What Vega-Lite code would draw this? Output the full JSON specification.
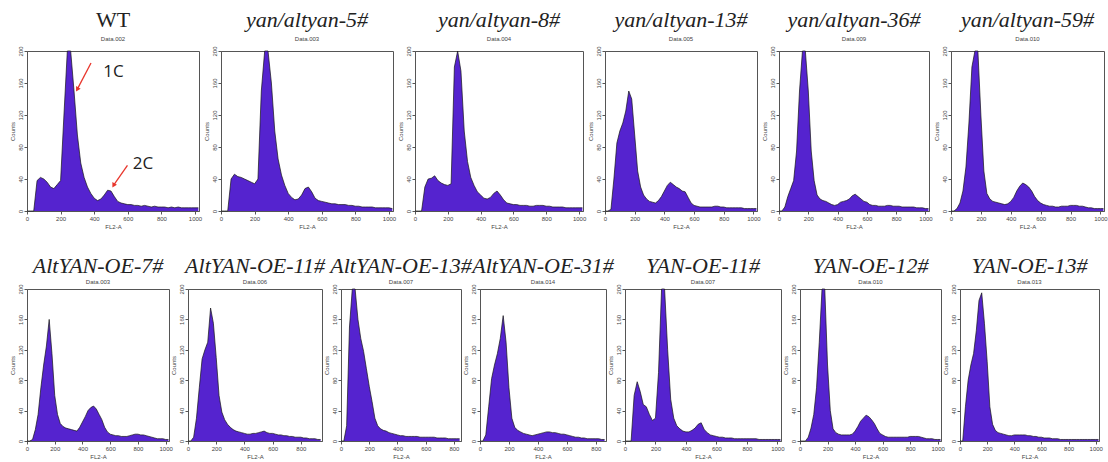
{
"$schema": "https://vega.github.io/schema/vega-lite/v6.json",
"background": "white",
"padding": {"left": 8, "top": 8, "right": 0, "bottom": 2},
"config": {
  "view": {"stroke": "#555", "strokeWidth": 1},
  "title": {"font": "Liberation Serif", "fontStyle": "italic", "fontWeight": "normal", "fontSize": 22, "color": "#222", "anchor": "middle", "offset": 3,
    "subtitleFont": "Liberation Sans", "subtitleFontStyle": "normal", "subtitleFontSize": 6, "subtitleColor": "#444", "subtitlePadding": 4},
  "axis": {"grid": false, "labelFont": "Liberation Sans", "labelFontSize": 6, "labelColor": "#444", "titleFont": "Liberation Sans", "titleFontSize": 6, "titleFontWeight": "normal", "titleColor": "#444", "tickSize": 3, "tickColor": "#555", "domainColor": "#555", "labelPadding": 1, "titlePadding": 2, "format": "d"},
  "axisY": {"labelAngle": -90, "labelAlign": "center", "labelBaseline": "bottom"},
  "axisX": {"tickCount": 5, "labelFlush": false},
  "area": {"color": "#5523cf", "clip": true, "line": {"color": "#151515", "strokeWidth": 0.7}}
},
"datasets": {
"WT": [{"x":0,"c":0},{"x":20,"c":0},{"x":40,"c":0},{"x":60,"c":38},{"x":80,"c":42},{"x":100,"c":40},{"x":120,"c":36},{"x":140,"c":30},{"x":160,"c":28},{"x":180,"c":33},{"x":200,"c":38},{"x":220,"c":120},{"x":240,"c":200},{"x":260,"c":200},{"x":280,"c":150},{"x":300,"c":95},{"x":320,"c":60},{"x":340,"c":42},{"x":360,"c":30},{"x":380,"c":22},{"x":400,"c":16},{"x":420,"c":13},{"x":440,"c":15},{"x":460,"c":20},{"x":480,"c":26},{"x":500,"c":25},{"x":520,"c":18},{"x":540,"c":12},{"x":560,"c":10},{"x":580,"c":9},{"x":600,"c":8},{"x":620,"c":8},{"x":640,"c":7},{"x":660,"c":7},{"x":680,"c":6},{"x":700,"c":7},{"x":720,"c":6},{"x":740,"c":5},{"x":760,"c":6},{"x":780,"c":5},{"x":800,"c":5},{"x":820,"c":5},{"x":840,"c":4},{"x":860,"c":5},{"x":880,"c":4},{"x":900,"c":5},{"x":920,"c":4},{"x":940,"c":4},{"x":960,"c":4},{"x":980,"c":4},{"x":1000,"c":4},{"x":1020,"c":4}],
"WTnotes": [{"label":"1C","from_x":381,"from_c":185,"to_x":299,"to_c":152,"text_x":515,"text_c":174},{"label":"2C","from_x":598,"from_c":57,"to_x":515,"to_c":32,"text_x":690,"text_c":59}],
"Y5": [{"x":0,"c":0},{"x":20,"c":0},{"x":40,"c":0},{"x":60,"c":40},{"x":80,"c":46},{"x":100,"c":43},{"x":120,"c":42},{"x":140,"c":40},{"x":160,"c":38},{"x":180,"c":36},{"x":200,"c":34},{"x":220,"c":40},{"x":240,"c":150},{"x":260,"c":200},{"x":280,"c":200},{"x":300,"c":160},{"x":320,"c":100},{"x":340,"c":65},{"x":360,"c":45},{"x":380,"c":32},{"x":400,"c":22},{"x":420,"c":17},{"x":440,"c":14},{"x":460,"c":15},{"x":480,"c":20},{"x":500,"c":28},{"x":520,"c":30},{"x":540,"c":24},{"x":560,"c":16},{"x":580,"c":13},{"x":600,"c":12},{"x":620,"c":11},{"x":640,"c":10},{"x":660,"c":9},{"x":680,"c":9},{"x":700,"c":8},{"x":720,"c":8},{"x":740,"c":8},{"x":760,"c":7},{"x":780,"c":7},{"x":800,"c":6},{"x":820,"c":6},{"x":840,"c":5},{"x":860,"c":5},{"x":880,"c":5},{"x":900,"c":5},{"x":920,"c":4},{"x":940,"c":4},{"x":960,"c":4},{"x":980,"c":4},{"x":1000,"c":4},{"x":1020,"c":3}],
"Y8": [{"x":0,"c":0},{"x":20,"c":0},{"x":40,"c":0},{"x":60,"c":30},{"x":80,"c":40},{"x":100,"c":41},{"x":120,"c":44},{"x":140,"c":38},{"x":160,"c":35},{"x":180,"c":33},{"x":200,"c":32},{"x":220,"c":34},{"x":240,"c":180},{"x":260,"c":200},{"x":280,"c":175},{"x":300,"c":100},{"x":320,"c":62},{"x":340,"c":42},{"x":360,"c":32},{"x":380,"c":24},{"x":400,"c":20},{"x":420,"c":16},{"x":440,"c":15},{"x":460,"c":17},{"x":480,"c":22},{"x":500,"c":25},{"x":520,"c":20},{"x":540,"c":14},{"x":560,"c":10},{"x":580,"c":9},{"x":600,"c":8},{"x":620,"c":8},{"x":640,"c":7},{"x":660,"c":7},{"x":680,"c":7},{"x":700,"c":6},{"x":720,"c":6},{"x":740,"c":7},{"x":760,"c":7},{"x":780,"c":7},{"x":800,"c":6},{"x":820,"c":6},{"x":840,"c":5},{"x":860,"c":5},{"x":880,"c":5},{"x":900,"c":5},{"x":920,"c":4},{"x":940,"c":4},{"x":960,"c":4},{"x":980,"c":4},{"x":1000,"c":4},{"x":1020,"c":4}],
"Y13": [{"x":0,"c":0},{"x":20,"c":0},{"x":40,"c":2},{"x":60,"c":40},{"x":80,"c":85},{"x":100,"c":100},{"x":120,"c":110},{"x":140,"c":125},{"x":160,"c":150},{"x":180,"c":140},{"x":200,"c":95},{"x":220,"c":50},{"x":240,"c":30},{"x":260,"c":20},{"x":280,"c":15},{"x":300,"c":12},{"x":320,"c":11},{"x":340,"c":10},{"x":360,"c":13},{"x":380,"c":18},{"x":400,"c":25},{"x":420,"c":32},{"x":440,"c":36},{"x":460,"c":33},{"x":480,"c":30},{"x":500,"c":28},{"x":520,"c":25},{"x":540,"c":24},{"x":560,"c":17},{"x":580,"c":10},{"x":600,"c":7},{"x":620,"c":6},{"x":640,"c":5},{"x":660,"c":5},{"x":680,"c":5},{"x":700,"c":5},{"x":720,"c":5},{"x":740,"c":6},{"x":760,"c":6},{"x":780,"c":5},{"x":800,"c":5},{"x":820,"c":4},{"x":840,"c":4},{"x":860,"c":4},{"x":880,"c":4},{"x":900,"c":4},{"x":920,"c":4},{"x":940,"c":3},{"x":960,"c":3},{"x":980,"c":3},{"x":1000,"c":3},{"x":1020,"c":3}],
"Y36": [{"x":0,"c":0},{"x":20,"c":0},{"x":40,"c":5},{"x":60,"c":18},{"x":80,"c":28},{"x":100,"c":38},{"x":120,"c":75},{"x":140,"c":150},{"x":160,"c":200},{"x":180,"c":200},{"x":200,"c":150},{"x":220,"c":75},{"x":240,"c":38},{"x":260,"c":20},{"x":280,"c":15},{"x":300,"c":13},{"x":320,"c":12},{"x":340,"c":10},{"x":360,"c":8},{"x":380,"c":7},{"x":400,"c":8},{"x":420,"c":11},{"x":440,"c":12},{"x":460,"c":13},{"x":480,"c":15},{"x":500,"c":19},{"x":520,"c":21},{"x":540,"c":18},{"x":560,"c":15},{"x":580,"c":12},{"x":600,"c":11},{"x":620,"c":8},{"x":640,"c":7},{"x":660,"c":7},{"x":680,"c":6},{"x":700,"c":6},{"x":720,"c":6},{"x":740,"c":7},{"x":760,"c":7},{"x":780,"c":6},{"x":800,"c":6},{"x":820,"c":6},{"x":840,"c":5},{"x":860,"c":5},{"x":880,"c":5},{"x":900,"c":5},{"x":920,"c":5},{"x":940,"c":4},{"x":960,"c":4},{"x":980,"c":4},{"x":1000,"c":3},{"x":1020,"c":3}],
"Y59": [{"x":0,"c":0},{"x":20,"c":0},{"x":40,"c":3},{"x":60,"c":10},{"x":80,"c":25},{"x":100,"c":55},{"x":120,"c":110},{"x":140,"c":180},{"x":160,"c":200},{"x":180,"c":200},{"x":200,"c":120},{"x":220,"c":50},{"x":240,"c":22},{"x":260,"c":15},{"x":280,"c":12},{"x":300,"c":11},{"x":320,"c":10},{"x":340,"c":9},{"x":360,"c":8},{"x":380,"c":9},{"x":400,"c":12},{"x":420,"c":17},{"x":440,"c":25},{"x":460,"c":31},{"x":480,"c":35},{"x":500,"c":33},{"x":520,"c":30},{"x":540,"c":25},{"x":560,"c":18},{"x":580,"c":13},{"x":600,"c":10},{"x":620,"c":8},{"x":640,"c":7},{"x":660,"c":6},{"x":680,"c":6},{"x":700,"c":5},{"x":720,"c":5},{"x":740,"c":6},{"x":760,"c":6},{"x":780,"c":6},{"x":800,"c":7},{"x":820,"c":7},{"x":840,"c":7},{"x":860,"c":6},{"x":880,"c":6},{"x":900,"c":5},{"x":920,"c":4},{"x":940,"c":4},{"x":960,"c":3},{"x":980,"c":3},{"x":1000,"c":3},{"x":1020,"c":3}],
"A7": [{"x":0,"c":0},{"x":20,"c":0},{"x":40,"c":2},{"x":60,"c":15},{"x":80,"c":35},{"x":100,"c":70},{"x":120,"c":100},{"x":140,"c":125},{"x":160,"c":160},{"x":180,"c":115},{"x":200,"c":60},{"x":220,"c":35},{"x":240,"c":23},{"x":260,"c":19},{"x":280,"c":17},{"x":300,"c":16},{"x":320,"c":15},{"x":340,"c":14},{"x":360,"c":13},{"x":380,"c":18},{"x":400,"c":25},{"x":420,"c":32},{"x":440,"c":40},{"x":460,"c":44},{"x":480,"c":46},{"x":500,"c":42},{"x":520,"c":35},{"x":540,"c":28},{"x":560,"c":18},{"x":580,"c":12},{"x":600,"c":9},{"x":620,"c":8},{"x":640,"c":7},{"x":660,"c":7},{"x":680,"c":6},{"x":700,"c":6},{"x":720,"c":6},{"x":740,"c":7},{"x":760,"c":8},{"x":780,"c":9},{"x":800,"c":9},{"x":820,"c":8},{"x":840,"c":8},{"x":860,"c":7},{"x":880,"c":6},{"x":900,"c":5},{"x":920,"c":4},{"x":940,"c":3},{"x":960,"c":3},{"x":980,"c":3},{"x":1000,"c":2},{"x":1020,"c":2}],
"A11": [{"x":0,"c":0},{"x":20,"c":0},{"x":40,"c":5},{"x":60,"c":30},{"x":80,"c":70},{"x":100,"c":108},{"x":120,"c":120},{"x":140,"c":130},{"x":160,"c":175},{"x":180,"c":155},{"x":200,"c":110},{"x":220,"c":60},{"x":240,"c":38},{"x":260,"c":28},{"x":280,"c":22},{"x":300,"c":18},{"x":320,"c":15},{"x":340,"c":13},{"x":360,"c":12},{"x":380,"c":11},{"x":400,"c":10},{"x":420,"c":9},{"x":440,"c":9},{"x":460,"c":10},{"x":480,"c":10},{"x":500,"c":11},{"x":520,"c":12},{"x":540,"c":13},{"x":560,"c":11},{"x":580,"c":10},{"x":600,"c":10},{"x":620,"c":9},{"x":640,"c":8},{"x":660,"c":8},{"x":680,"c":7},{"x":700,"c":7},{"x":720,"c":6},{"x":740,"c":6},{"x":760,"c":5},{"x":780,"c":5},{"x":800,"c":5},{"x":820,"c":4},{"x":840,"c":4},{"x":860,"c":3},{"x":880,"c":3},{"x":900,"c":3},{"x":920,"c":2},{"x":940,"c":2}],
"A13": [{"x":0,"c":0},{"x":20,"c":0},{"x":40,"c":20},{"x":60,"c":150},{"x":80,"c":200},{"x":100,"c":200},{"x":120,"c":160},{"x":140,"c":135},{"x":160,"c":118},{"x":180,"c":95},{"x":200,"c":72},{"x":220,"c":52},{"x":240,"c":30},{"x":260,"c":20},{"x":280,"c":16},{"x":300,"c":14},{"x":320,"c":13},{"x":340,"c":11},{"x":360,"c":10},{"x":380,"c":9},{"x":400,"c":8},{"x":420,"c":7},{"x":440,"c":7},{"x":460,"c":6},{"x":480,"c":6},{"x":500,"c":6},{"x":520,"c":6},{"x":540,"c":6},{"x":560,"c":5},{"x":580,"c":5},{"x":600,"c":5},{"x":620,"c":5},{"x":640,"c":5},{"x":660,"c":5},{"x":680,"c":4},{"x":700,"c":4},{"x":720,"c":4},{"x":740,"c":4},{"x":760,"c":3},{"x":780,"c":3},{"x":800,"c":3},{"x":820,"c":3},{"x":840,"c":3}],
"A31": [{"x":0,"c":0},{"x":20,"c":0},{"x":40,"c":8},{"x":60,"c":45},{"x":80,"c":82},{"x":100,"c":100},{"x":120,"c":115},{"x":140,"c":135},{"x":160,"c":165},{"x":180,"c":130},{"x":200,"c":70},{"x":220,"c":30},{"x":240,"c":18},{"x":260,"c":14},{"x":280,"c":12},{"x":300,"c":10},{"x":320,"c":9},{"x":340,"c":8},{"x":360,"c":7},{"x":380,"c":8},{"x":400,"c":9},{"x":420,"c":10},{"x":440,"c":11},{"x":460,"c":12},{"x":480,"c":12},{"x":500,"c":11},{"x":520,"c":11},{"x":540,"c":10},{"x":560,"c":9},{"x":580,"c":9},{"x":600,"c":8},{"x":620,"c":7},{"x":640,"c":6},{"x":660,"c":5},{"x":680,"c":5},{"x":700,"c":4},{"x":720,"c":4},{"x":740,"c":3},{"x":760,"c":3},{"x":780,"c":3},{"x":800,"c":3},{"x":820,"c":3},{"x":840,"c":2},{"x":860,"c":2}],
"O11": [{"x":0,"c":0},{"x":20,"c":0},{"x":40,"c":0},{"x":60,"c":60},{"x":80,"c":78},{"x":100,"c":65},{"x":120,"c":48},{"x":140,"c":45},{"x":160,"c":35},{"x":180,"c":27},{"x":200,"c":30},{"x":220,"c":90},{"x":240,"c":200},{"x":260,"c":200},{"x":280,"c":120},{"x":300,"c":55},{"x":320,"c":30},{"x":340,"c":20},{"x":360,"c":16},{"x":380,"c":13},{"x":400,"c":12},{"x":420,"c":12},{"x":440,"c":14},{"x":460,"c":17},{"x":480,"c":22},{"x":500,"c":24},{"x":520,"c":15},{"x":540,"c":11},{"x":560,"c":8},{"x":580,"c":7},{"x":600,"c":6},{"x":620,"c":5},{"x":640,"c":5},{"x":660,"c":4},{"x":680,"c":4},{"x":700,"c":4},{"x":720,"c":3},{"x":740,"c":3},{"x":760,"c":3},{"x":780,"c":3},{"x":800,"c":3},{"x":820,"c":3},{"x":840,"c":3},{"x":860,"c":3},{"x":880,"c":2},{"x":900,"c":2},{"x":920,"c":2},{"x":940,"c":2},{"x":960,"c":2},{"x":980,"c":2},{"x":1000,"c":2},{"x":1020,"c":2}],
"O12": [{"x":0,"c":0},{"x":20,"c":0},{"x":40,"c":0},{"x":60,"c":5},{"x":80,"c":17},{"x":100,"c":35},{"x":120,"c":70},{"x":140,"c":130},{"x":160,"c":200},{"x":180,"c":200},{"x":200,"c":100},{"x":220,"c":40},{"x":240,"c":16},{"x":260,"c":11},{"x":280,"c":9},{"x":300,"c":8},{"x":320,"c":8},{"x":340,"c":8},{"x":360,"c":8},{"x":380,"c":9},{"x":400,"c":13},{"x":420,"c":19},{"x":440,"c":26},{"x":460,"c":30},{"x":480,"c":34},{"x":500,"c":32},{"x":520,"c":28},{"x":540,"c":23},{"x":560,"c":16},{"x":580,"c":10},{"x":600,"c":8},{"x":620,"c":6},{"x":640,"c":5},{"x":660,"c":5},{"x":680,"c":5},{"x":700,"c":5},{"x":720,"c":5},{"x":740,"c":5},{"x":760,"c":5},{"x":780,"c":5},{"x":800,"c":6},{"x":820,"c":6},{"x":840,"c":6},{"x":860,"c":6},{"x":880,"c":5},{"x":900,"c":4},{"x":920,"c":3},{"x":940,"c":3},{"x":960,"c":3},{"x":980,"c":2},{"x":1000,"c":2},{"x":1020,"c":2}],
"O13": [{"x":0,"c":0},{"x":20,"c":0},{"x":40,"c":45},{"x":60,"c":80},{"x":80,"c":100},{"x":100,"c":115},{"x":120,"c":145},{"x":140,"c":185},{"x":160,"c":195},{"x":180,"c":155},{"x":200,"c":105},{"x":220,"c":45},{"x":240,"c":22},{"x":260,"c":14},{"x":280,"c":11},{"x":300,"c":10},{"x":320,"c":9},{"x":340,"c":8},{"x":360,"c":7},{"x":380,"c":7},{"x":400,"c":8},{"x":420,"c":8},{"x":440,"c":8},{"x":460,"c":8},{"x":480,"c":8},{"x":500,"c":7},{"x":520,"c":7},{"x":540,"c":6},{"x":560,"c":6},{"x":580,"c":5},{"x":600,"c":5},{"x":620,"c":4},{"x":640,"c":4},{"x":660,"c":4},{"x":680,"c":3},{"x":700,"c":3},{"x":720,"c":3},{"x":740,"c":2},{"x":760,"c":2},{"x":780,"c":2},{"x":800,"c":2},{"x":820,"c":2},{"x":840,"c":2},{"x":860,"c":2},{"x":880,"c":2},{"x":900,"c":2},{"x":920,"c":2},{"x":940,"c":2},{"x":960,"c":2},{"x":980,"c":2},{"x":1000,"c":2},{"x":1020,"c":2}]
},
"vconcat": [
 {"bounds": "flush", "spacing": 22, "hconcat": [
  {"title": {"text": "WT", "subtitle": "Data.002", "fontStyle": "normal"}, "width": 172, "height": 160,
   "layer": [
    {"data": {"name": "WT"}, "mark": {"type": "area", "opacity": 1},
     "encoding": {"x": {"field": "x", "type": "quantitative", "title": "FL2-A", "scale": {"domain": [0, 1024], "nice": false}}, "y": {"field": "c", "type": "quantitative", "title": "Counts", "scale": {"domain": [0, 200], "nice": false}, "axis": {"values": [0, 40, 80, 120, 160, 200]}}}},
    {"data": {"name": "WTnotes"}, "mark": {"type": "rule", "color": "#e8362c", "strokeWidth": 1.3},
     "encoding": {"x": {"field": "from_x", "type": "quantitative", "title": "FL2-A", "scale": {"domain": [0, 1024], "nice": false}}, "y": {"field": "from_c", "type": "quantitative", "title": "Counts", "scale": {"domain": [0, 200], "nice": false}, "axis": {"values": [0, 40, 80, 120, 160, 200]}}, "x2": {"field": "to_x"}, "y2": {"field": "to_c"}}},
    {"data": {"name": "WTnotes"}, "mark": {"type": "point", "shape": "triangle-up", "filled": true, "color": "#e8362c", "size": 28, "angle": 210, "opacity": 1},
     "encoding": {"x": {"field": "to_x", "type": "quantitative", "title": "FL2-A", "scale": {"domain": [0, 1024], "nice": false}}, "y": {"field": "to_c", "type": "quantitative", "title": "Counts", "scale": {"domain": [0, 200], "nice": false}, "axis": {"values": [0, 40, 80, 120, 160, 200]}}}},
    {"data": {"name": "WTnotes"}, "mark": {"type": "text", "font": "Open Sans", "fontSize": 17, "color": "#222", "align": "center", "baseline": "middle"},
     "encoding": {"x": {"field": "text_x", "type": "quantitative", "title": "FL2-A", "scale": {"domain": [0, 1024], "nice": false}}, "y": {"field": "text_c", "type": "quantitative", "title": "Counts", "scale": {"domain": [0, 200], "nice": false}, "axis": {"values": [0, 40, 80, 120, 160, 200]}}, "text": {"field": "label"}}}
   ]},
  {"data": {"name": "Y5"}, "title": {"text": "yan/altyan-5#", "subtitle": "Data.003"}, "width": 172, "height": 160, "mark": {"type": "area", "opacity": 1},
   "encoding": {"x": {"field": "x", "type": "quantitative", "title": "FL2-A", "scale": {"domain": [0, 1024], "nice": false}}, "y": {"field": "c", "type": "quantitative", "title": "Counts", "scale": {"domain": [0, 200], "nice": false}, "axis": {"values": [0, 40, 80, 120, 160, 200]}}}},
  {"data": {"name": "Y8"}, "title": {"text": "yan/altyan-8#", "subtitle": "Data.004"}, "width": 168, "height": 160, "mark": {"type": "area", "opacity": 1},
   "encoding": {"x": {"field": "x", "type": "quantitative", "title": "FL2-A", "scale": {"domain": [0, 1024], "nice": false}}, "y": {"field": "c", "type": "quantitative", "title": "Counts", "scale": {"domain": [0, 200], "nice": false}, "axis": {"values": [0, 40, 80, 120, 160, 200]}}}},
  {"data": {"name": "Y13"}, "title": {"text": "yan/altyan-13#", "subtitle": "Data.005"}, "width": 152, "height": 160, "mark": {"type": "area", "opacity": 1},
   "encoding": {"x": {"field": "x", "type": "quantitative", "title": "FL2-A", "scale": {"domain": [0, 1024], "nice": false}}, "y": {"field": "c", "type": "quantitative", "title": "Counts", "scale": {"domain": [0, 200], "nice": false}, "axis": {"values": [0, 40, 80, 120, 160, 200]}}}},
  {"data": {"name": "Y36"}, "title": {"text": "yan/altyan-36#", "subtitle": "Data.009"}, "width": 150, "height": 160, "mark": {"type": "area", "opacity": 1},
   "encoding": {"x": {"field": "x", "type": "quantitative", "title": "FL2-A", "scale": {"domain": [0, 1024], "nice": false}}, "y": {"field": "c", "type": "quantitative", "title": "Counts", "scale": {"domain": [0, 200], "nice": false}, "axis": {"values": [0, 40, 80, 120, 160, 200]}}}},
  {"data": {"name": "Y59"}, "title": {"text": "yan/altyan-59#", "subtitle": "Data.010"}, "width": 153, "height": 160, "mark": {"type": "area", "opacity": 1},
   "encoding": {"x": {"field": "x", "type": "quantitative", "title": "FL2-A", "scale": {"domain": [0, 1024], "nice": false}}, "y": {"field": "c", "type": "quantitative", "title": "Counts", "scale": {"domain": [0, 200], "nice": false}, "axis": {"values": [0, 40, 80, 120, 160, 200]}}}}
 ]},
 {"bounds": "flush", "spacing": 19, "hconcat": [
  {"data": {"name": "A7"}, "title": {"text": "AltYAN-OE-7#", "subtitle": "Data.003", "offset": -2, "subtitlePadding": 1}, "width": 142, "height": 152, "mark": {"type": "area", "opacity": 1},
   "encoding": {"x": {"field": "x", "type": "quantitative", "title": "FL2-A", "scale": {"domain": [0, 1024], "nice": false}}, "y": {"field": "c", "type": "quantitative", "title": "Counts", "scale": {"domain": [0, 200], "nice": false}, "axis": {"values": [0, 40, 80, 120, 160, 200]}}}},
  {"data": {"name": "A11"}, "title": {"text": "AltYAN-OE-11#", "subtitle": "Data.006", "offset": -2, "subtitlePadding": 1}, "width": 134, "height": 152, "mark": {"type": "area", "opacity": 1},
   "encoding": {"x": {"field": "x", "type": "quantitative", "title": "FL2-A", "scale": {"domain": [0, 950], "nice": false}}, "y": {"field": "c", "type": "quantitative", "title": "Counts", "scale": {"domain": [0, 200], "nice": false}, "axis": {"values": [0, 40, 80, 120, 160, 200]}}}},
  {"data": {"name": "A13"}, "title": {"text": "AltYAN-OE-13#", "subtitle": "Data.007", "offset": -2, "subtitlePadding": 1}, "width": 120, "height": 152, "mark": {"type": "area", "opacity": 1},
   "encoding": {"x": {"field": "x", "type": "quantitative", "title": "FL2-A", "scale": {"domain": [0, 850], "nice": false}}, "y": {"field": "c", "type": "quantitative", "title": "Counts", "scale": {"domain": [0, 200], "nice": false}, "axis": {"values": [0, 40, 80, 120, 160, 200]}}}},
  {"data": {"name": "A31"}, "title": {"text": "AltYAN-OE-31#", "subtitle": "Data.014", "offset": -2, "subtitlePadding": 1}, "width": 126, "height": 152, "mark": {"type": "area", "opacity": 1},
   "encoding": {"x": {"field": "x", "type": "quantitative", "title": "FL2-A", "scale": {"domain": [0, 870], "nice": false}}, "y": {"field": "c", "type": "quantitative", "title": "Counts", "scale": {"domain": [0, 200], "nice": false}, "axis": {"values": [0, 40, 80, 120, 160, 200]}}}},
  {"data": {"name": "O11"}, "title": {"text": "YAN-OE-11#", "subtitle": "Data.007", "offset": -2, "subtitlePadding": 1}, "width": 156, "height": 152, "mark": {"type": "area", "opacity": 1},
   "encoding": {"x": {"field": "x", "type": "quantitative", "title": "FL2-A", "scale": {"domain": [0, 1024], "nice": false}}, "y": {"field": "c", "type": "quantitative", "title": "Counts", "scale": {"domain": [0, 200], "nice": false}, "axis": {"values": [0, 40, 80, 120, 160, 200]}}}},
  {"data": {"name": "O12"}, "title": {"text": "YAN-OE-12#", "subtitle": "Data.010", "offset": -2, "subtitlePadding": 1}, "width": 141, "height": 152, "mark": {"type": "area", "opacity": 1},
   "encoding": {"x": {"field": "x", "type": "quantitative", "title": "FL2-A", "scale": {"domain": [0, 1024], "nice": false}}, "y": {"field": "c", "type": "quantitative", "title": "Counts", "scale": {"domain": [0, 200], "nice": false}, "axis": {"values": [0, 40, 80, 120, 160, 200]}}}},
  {"data": {"name": "O13"}, "title": {"text": "YAN-OE-13#", "subtitle": "Data.013", "offset": -2, "subtitlePadding": 1}, "width": 139, "height": 152, "mark": {"type": "area", "opacity": 1},
   "encoding": {"x": {"field": "x", "type": "quantitative", "title": "FL2-A", "scale": {"domain": [0, 1024], "nice": false}}, "y": {"field": "c", "type": "quantitative", "title": "Counts", "scale": {"domain": [0, 200], "nice": false}, "axis": {"values": [0, 40, 80, 120, 160, 200]}}}}
 ]}
],
"spacing": 24
}
